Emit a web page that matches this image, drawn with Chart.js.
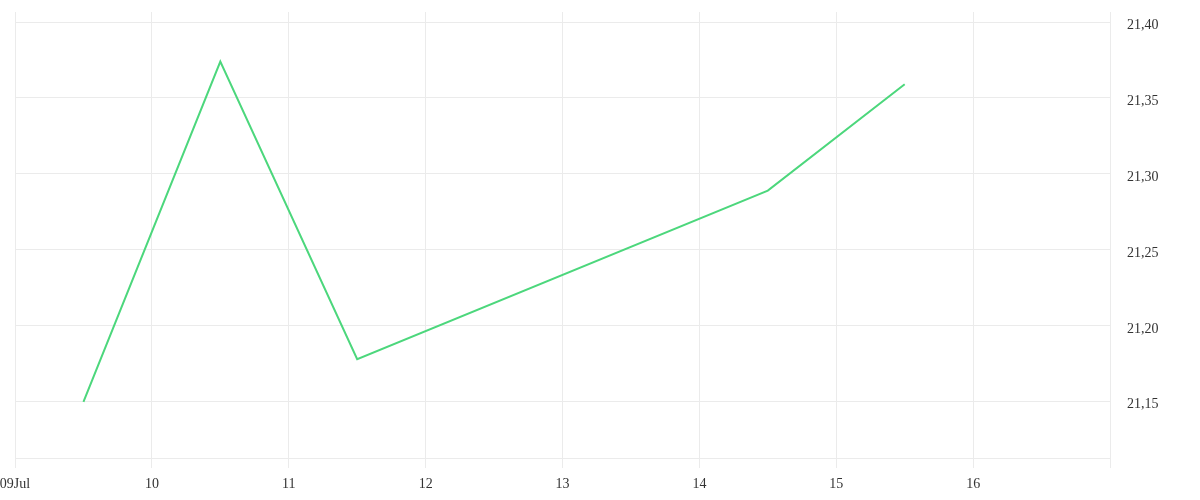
<!DOCTYPE html>
<html lang="en">
<head>
    <meta charset="UTF-8">
    <title>Price chart</title>
    <style>
        body {
            margin: 0;
            background-color: #fff;
        }
        #chart-wrap {
            width: 1200px;
            height: 500px;
        }
    </style>
    <script src="https://cdn.jsdelivr.net/npm/chart.js"></script>
</head>
<body>
    <div id="chart-wrap">
        <canvas id="chart"></canvas>
    </div>

    <script>
        // days of July (noon of each trading day)
        const days = [9.5, 10.5, 11.5, 14.5, 15.5];
        const prices = [21.15, 21.374, 21.178, 21.289, 21.359];

        const xTicks = [9, 10, 11, 12, 13, 14, 15, 16, 17];
        const xTickLabels = ['09Jul', '10', '11', '12', '13', '14', '15', '16', ''];
        const yTicks = [21.15, 21.20, 21.25, 21.30, 21.35, 21.40];

        const gridColor = '#ebebeb';
        const textColor = '#333';
        const font = { family: "'Liberation Serif', serif", size: 14 };

        const ctx = document.getElementById('chart').getContext('2d');
        new Chart(ctx, {
            type: 'line',
            data: {
                datasets: [{
                    data: days.map((d, i) => ({ x: d, y: prices[i] })),
                    borderColor: '#4cd77c',
                    borderWidth: 2,
                    pointRadius: 0,
                    tension: 0,
                    fill: false
                }]
            },
            options: {
                responsive: true,
                maintainAspectRatio: false,
                animation: false,
                layout: {
                    padding: 0
                },
                plugins: {
                    legend: { display: false },
                    tooltip: { enabled: false }
                },
                scales: {
                    x: {
                        type: 'linear',
                        min: 9,
                        max: 17,
                        afterBuildTicks: scale => {
                            scale.ticks = xTicks.map(v => ({ value: v }));
                        },
                        afterFit: scale => {
                            scale.height = 42;
                            scale.paddingLeft = 15;
                            scale.paddingRight = 0;
                        },
                        ticks: {
                            callback: (v) => xTickLabels[xTicks.indexOf(v)],
                            color: textColor,
                            font: font,
                            maxRotation: 0,
                            autoSkip: false,
                            padding: 8
                        },
                        grid: {
                            color: gridColor,
                            tickLength: 10
                        },
                        border: { color: gridColor }
                    },
                    y: {
                        position: 'right',
                        min: 21.113,
                        max: 21.4066,
                        afterBuildTicks: scale => {
                            scale.ticks = yTicks.map(v => ({ value: v }));
                        },
                        afterFit: scale => {
                            scale.width = 90;
                            scale.paddingTop = 12;
                            scale.paddingBottom = 0;
                        },
                        ticks: {
                            callback: v => v.toFixed(2).replace('.', ','),
                            color: textColor,
                            font: font,
                            padding: 17,
                            labelOffset: 3
                        },
                        grid: {
                            color: gridColor,
                            drawTicks: false
                        },
                        border: { display: false }
                    }
                }
            }
        });
    </script>
</body>
</html>
